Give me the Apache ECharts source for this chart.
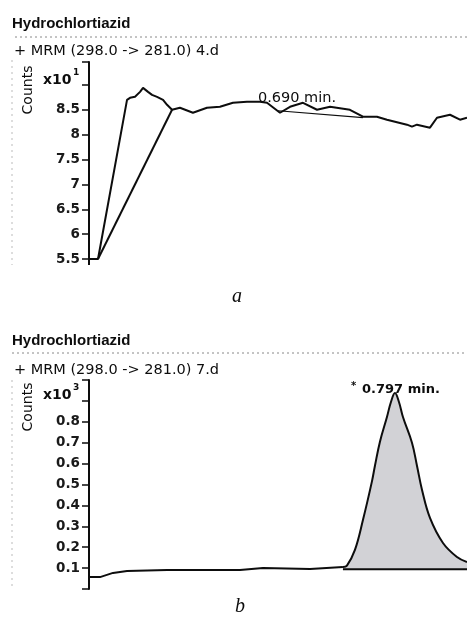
<!DOCTYPE html>
<html>
<head>
<meta charset="utf-8">
<script src="https://cdn.jsdelivr.net/npm/echarts@6/dist/echarts.min.js"></script>
<style>
html,body{margin:0;padding:0;background:#fff;}
#chart{width:467px;height:619px;}
</style>
</head>
<body>
<div id="chart"></div>
<script>
// ---------- DATA ----------
// Panel a: time (min) and counts (x10^1)
const aTime   = [0.522,0.5301,0.5562,0.5589,0.5634,0.5679,0.5706,0.5751,0.5787,0.5832,0.5886,0.5922,0.5967,0.6038,0.6155,0.6281,0.6398,0.6515,0.6641,0.6758,0.6821,0.6938,0.7028,0.7145,0.7271,0.7388,0.7567,0.7684,0.781,0.790,0.808,0.8125,0.817,0.8287,0.835,0.8467,0.8557,0.862];
const aCounts = [5.5,5.5,8.70,8.74,8.76,8.86,8.94,8.86,8.80,8.76,8.70,8.60,8.50,8.54,8.44,8.54,8.56,8.64,8.66,8.66,8.64,8.44,8.56,8.64,8.50,8.56,8.50,8.36,8.36,8.30,8.20,8.16,8.20,8.14,8.34,8.40,8.30,8.34];
// integration baselines drawn in panel a
const aBase1Time = [0.5301,0.5967];
const aBase1Counts = [5.5,8.50];
const aBase2Time = [0.6920,0.7684];
const aBase2Counts = [8.48,8.34];
const aYTicks = [5.5,6,6.5,7,7.5,8,8.5];

// Panel b: time (min) and counts (x10^3)
const bTime   = [0.5229,0.5319,0.5436,0.5562,0.5922,0.6218,0.6578,0.6785,0.7208,0.7504];
const bCounts = [0.057,0.057,0.077,0.086,0.091,0.091,0.091,0.100,0.096,0.105];
const bPeakTime   = [0.7504,0.754,0.7612,0.7684,0.7765,0.7792,0.7837,0.790,0.7936,0.7972,0.8008,0.8044,0.8125,0.817,0.8215,0.8287,0.8404,0.853,0.862];
const bPeakCounts = [0.105,0.112,0.187,0.330,0.515,0.590,0.705,0.823,0.895,0.938,0.895,0.823,0.700,0.590,0.475,0.340,0.220,0.153,0.129];
const bBaseTime = [0.7504,0.862];
const bBaseCounts = [0.095,0.095];
const bYTicks = [0.1,0.2,0.3,0.4,0.5,0.6,0.7,0.8];

const zip = (xs, ys) => xs.map((x, i) => [x, ys[i]]);

// ---------- CHART ----------
const chart = echarts.init(document.getElementById('chart'));
const TXT = '#0d0d0d';
const LINE = '#0d0d0d';

const yAxisCommon = {
  type: 'value',
  splitLine: {show: false},
  axisLine: {show: true, lineStyle: {color: LINE, width: 2}},
  axisTick: {show: true, length: 7, lineStyle: {color: LINE, width: 1.5}},
  axisLabel: {color: '#1a1a1a', fontFamily: 'DejaVu Sans', fontWeight: 'bold', fontSize: 13.5, margin: 9}
};

const option = {
  animation: false,
  backgroundColor: '#fff',
  grid: [
    {left: 89, right: 0, top: 62, height: 197},
    {left: 89, right: 0, top: 380, height: 209}
  ],
  xAxis: [
    {type: 'value', gridIndex: 0, min: 0.522, max: 0.862, show: false},
    {type: 'value', gridIndex: 1, min: 0.522, max: 0.862, show: false}
  ],
  yAxis: [
    Object.assign({}, yAxisCommon, {gridIndex: 0, min: 5.5, max: 9.46, interval: 0.5,
      axisLabel: Object.assign({}, yAxisCommon.axisLabel, {
        formatter: v => aYTicks.some(t => Math.abs(t - v) < 1e-6) ? String(v) : ''
      })}),
    Object.assign({}, yAxisCommon, {gridIndex: 1, min: 0, max: 1, interval: 0.1,
      axisLabel: Object.assign({}, yAxisCommon.axisLabel, {
        formatter: v => bYTicks.some(t => Math.abs(t - v) < 1e-6) ? v.toFixed(1) : ''
      })})
  ],
  series: [
    {type: 'line', xAxisIndex: 0, yAxisIndex: 0, data: zip(aTime, aCounts), symbol: 'none',
     lineStyle: {color: LINE, width: 2}},
    {type: 'line', xAxisIndex: 0, yAxisIndex: 0, data: zip(aBase1Time, aBase1Counts), symbol: 'none',
     lineStyle: {color: LINE, width: 2}},
    {type: 'line', xAxisIndex: 0, yAxisIndex: 0, data: zip(aBase2Time, aBase2Counts), symbol: 'none',
     lineStyle: {color: LINE, width: 1.2}},
    {type: 'line', xAxisIndex: 1, yAxisIndex: 1, data: zip(bPeakTime, bPeakCounts), symbol: 'none',
     smooth: 0.4,
     lineStyle: {color: LINE, width: 2},
     areaStyle: {color: '#d2d2d6', opacity: 1, origin: 0.095}},
    {type: 'line', xAxisIndex: 1, yAxisIndex: 1, data: zip(bTime, bCounts), symbol: 'none',
     lineStyle: {color: LINE, width: 2}},
    {type: 'line', xAxisIndex: 1, yAxisIndex: 1, data: zip(bBaseTime, bBaseCounts), symbol: 'none',
     lineStyle: {color: LINE, width: 2}}
  ],
  graphic: [
    // frame decorations
    {type: 'line', shape: {x1: 15, y1: 37, x2: 467, y2: 37}, style: {stroke: '#888', lineWidth: 1, lineDash: [2, 3]}},
    {type: 'line', shape: {x1: 12, y1: 60, x2: 12, y2: 265}, style: {stroke: '#bbb', lineWidth: 1, lineDash: [2, 4]}},
    {type: 'line', shape: {x1: 12, y1: 353, x2: 467, y2: 353}, style: {stroke: '#888', lineWidth: 1, lineDash: [2, 3]}},
    {type: 'line', shape: {x1: 12, y1: 380, x2: 12, y2: 588}, style: {stroke: '#bbb', lineWidth: 1, lineDash: [2, 4]}},
    {type: 'line', shape: {x1: 89, y1: 259, x2: 89, y2: 265}, style: {stroke: LINE, lineWidth: 2}},
    // panel a texts
    {type: 'text', left: 12, top: 16, style: {text: 'Hydrochlortiazid', fill: TXT, font: 'bold 15px "Liberation Sans"'}},
    {type: 'text', left: 14, top: 44, style: {text: '+ MRM (298.0 -> 281.0) 4.d', fill: TXT, font: '14.5px "DejaVu Sans"'}},
    {type: 'text', x: 28, y: 90, rotation: Math.PI / 2, style: {text: 'Counts', fill: TXT, font: '14px "DejaVu Sans"', align: 'center', verticalAlign: 'middle'}},
    {type: 'text', x: 43, y: 80, style: {text: 'x10', fill: TXT, font: 'bold 14px "DejaVu Sans"', verticalAlign: 'middle'}},
    {type: 'text', x: 73, y: 73, style: {text: '1', fill: TXT, font: 'bold 9px "DejaVu Sans"', verticalAlign: 'middle'}},
    {type: 'text', x: 258, y: 98, style: {text: '0.690 min.', fill: TXT, font: '14.5px "DejaVu Sans"', verticalAlign: 'middle'}},
    {type: 'text', x: 237, y: 297, style: {text: 'a', fill: TXT, font: 'italic 20px "Liberation Serif"', align: 'center', verticalAlign: 'middle'}},
    // panel b texts
    {type: 'text', left: 12, top: 333, style: {text: 'Hydrochlortiazid', fill: TXT, font: 'bold 15px "Liberation Sans"'}},
    {type: 'text', left: 14, top: 363, style: {text: '+ MRM (298.0 -> 281.0) 7.d', fill: TXT, font: '14.5px "DejaVu Sans"'}},
    {type: 'text', x: 28, y: 407, rotation: Math.PI / 2, style: {text: 'Counts', fill: TXT, font: '14px "DejaVu Sans"', align: 'center', verticalAlign: 'middle'}},
    {type: 'text', x: 43, y: 395, style: {text: 'x10', fill: TXT, font: 'bold 14px "DejaVu Sans"', verticalAlign: 'middle'}},
    {type: 'text', x: 73, y: 388, style: {text: '3', fill: TXT, font: 'bold 9px "DejaVu Sans"', verticalAlign: 'middle'}},
    {type: 'text', x: 351, y: 386, style: {text: '*', fill: TXT, font: 'bold 10px "DejaVu Sans"', verticalAlign: 'middle'}},
    {type: 'text', x: 362, y: 390, style: {text: '0.797 min.', fill: TXT, font: 'bold 13px "DejaVu Sans"', verticalAlign: 'middle'}},
    {type: 'text', x: 240, y: 607, style: {text: 'b', fill: TXT, font: 'italic 20px "Liberation Serif"', align: 'center', verticalAlign: 'middle'}}
  ]
};
chart.setOption(option);
</script>
</body>
</html>
